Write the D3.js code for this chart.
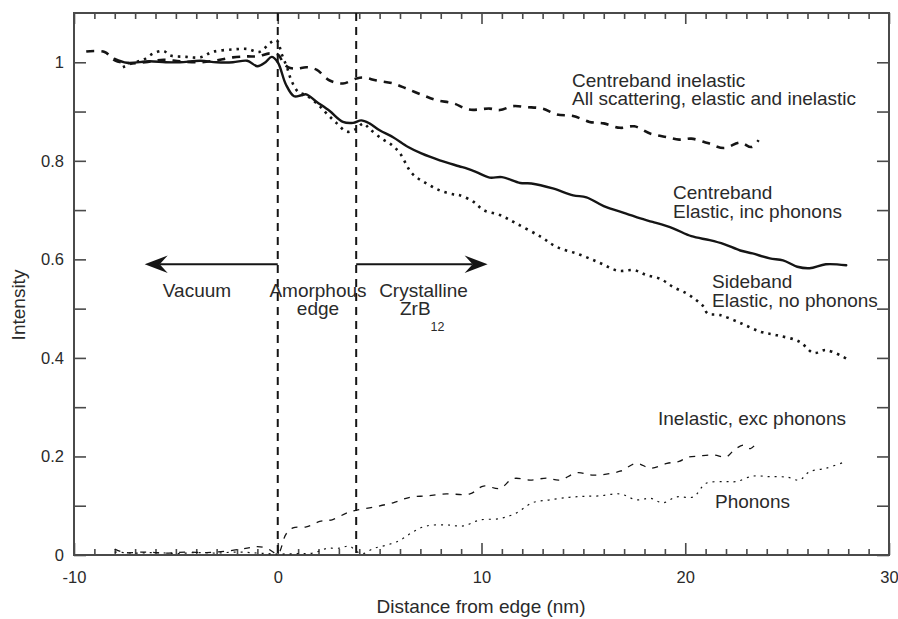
<!DOCTYPE html>
<html>
<head>
<meta charset="utf-8">
<script src="https://cdn.jsdelivr.net/npm/d3@7"></script>
<style>
  html, body { margin: 0; padding: 0; background: #fff; }
  svg { display: block; font-family: "Liberation Sans", Arial, Helvetica, sans-serif; }
  .tick text { font-size: 16.5px; fill: #2a2a2a; }
  .tick line { stroke: #4a4a4a; stroke-width: 1.6; }
  .lbl { font-size: 19px; fill: #2a2a2a; }
</style>
</head>
<body>
<svg id="chart" width="898" height="619"></svg>
<script>
// Intensity profiles across the ZrB12 surface (distance in nm, normalised intensity)
const allScattering = [
  [-9.4,1.022],[-8.5,1.021],[-8.0,1.004],[-7.3,0.998],[-6.5,1.0],[-5.6,1.005],[-4.8,1.002],
  [-3.8,1.0],[-3.0,1.004],[-2.2,1.01],[-1.5,1.012],[-1.0,1.012],[-0.4,1.018],[0.0,1.016],
  [0.26,1.0],[0.5,0.99],[0.92,0.987],[1.41,0.99],[1.9,0.985],[2.55,0.963],[3.2,0.957],
  [3.86,0.967],[4.2,0.969],[4.85,0.963],[5.66,0.957],[6.3,0.947],[7.13,0.933],[7.8,0.923],
  [8.6,0.917],[9.4,0.904],[10.4,0.906],[10.9,0.903],[11.55,0.911],[12.2,0.909],[13.0,0.906],
  [13.7,0.894],[14.5,0.891],[15.3,0.879],[16.0,0.876],[16.8,0.867],[17.5,0.87],[18.3,0.855],
  [19.1,0.848],[19.7,0.843],[20.3,0.845],[21.1,0.836],[21.9,0.826],[22.7,0.837],[23.25,0.828],
  [23.6,0.842]
];
const elasticIncPhonons = [
  [-8.0,1.007],[-7.4,0.999],[-6.3,1.002],[-5.5,1.0],[-4.8,1.0],[-3.8,1.003],[-3.0,1.0],
  [-2.2,1.0],[-1.5,1.003],[-1.0,0.992],[-0.6,1.0],[-0.3,1.011],[0.0,1.0],[0.4,0.955],
  [0.8,0.931],[1.15,0.933],[1.4,0.935],[1.9,0.92],[2.55,0.901],[3.2,0.879],[3.7,0.877],
  [4.1,0.882],[4.5,0.876],[5.0,0.862],[5.66,0.848],[6.4,0.828],[7.05,0.815],[7.95,0.801],
  [8.9,0.789],[9.3,0.784],[9.75,0.777],[10.4,0.766],[11.0,0.767],[11.9,0.755],[12.45,0.754],
  [13.5,0.744],[14.5,0.73],[15.15,0.726],[16.0,0.708],[17.1,0.693],[17.8,0.683],[18.4,0.676],
  [19.4,0.663],[20.3,0.647],[21.2,0.639],[21.9,0.631],[22.7,0.618],[23.3,0.612],[24.15,0.602],
  [24.8,0.598],[25.5,0.585],[26.1,0.582],[26.9,0.59],[27.9,0.588]
];
const elasticNoPhonons = [
  [-7.6,0.99],[-7.1,0.999],[-6.6,1.005],[-6.1,1.018],[-5.6,1.023],[-5.3,1.014],[-4.5,1.011],
  [-3.8,1.01],[-3.2,1.021],[-2.2,1.026],[-1.5,1.027],[-0.9,1.021],[-0.35,1.04],[-0.06,1.045],
  [0.2,1.016],[0.45,0.99],[0.67,0.963],[1.0,0.94],[1.4,0.933],[2.0,0.913],[2.4,0.896],
  [2.9,0.876],[3.4,0.859],[3.86,0.865],[4.2,0.876],[4.5,0.865],[5.1,0.845],[5.6,0.832],
  [6.0,0.815],[6.6,0.774],[7.3,0.754],[7.95,0.74],[8.6,0.732],[8.93,0.73],[9.6,0.717],
  [10.1,0.7],[10.9,0.69],[11.7,0.673],[12.9,0.646],[13.7,0.625],[14.8,0.61],[15.8,0.593],
  [16.7,0.577],[17.5,0.578],[18.1,0.568],[18.8,0.56],[19.4,0.544],[20.06,0.531],[20.55,0.517],
  [20.9,0.504],[21.1,0.49],[21.7,0.487],[22.7,0.471],[23.7,0.453],[24.5,0.446],[25.6,0.433],
  [26.3,0.41],[26.9,0.416],[27.9,0.399]
];
const inelasticExcPhonons = [
  [-8.0,0.012],[-7.5,0.005],[-6.5,0.006],[-5.5,0.004],[-4.5,0.006],[-3.5,0.005],[-2.5,0.008],
  [-1.5,0.014],[-1.0,0.017],[-0.55,0.014],[0.0,0.003],[0.4,0.042],[0.75,0.055],[1.4,0.057],
  [2.06,0.068],[2.7,0.072],[3.37,0.085],[3.86,0.091],[4.68,0.097],[5.66,0.106],[6.48,0.117],
  [7.3,0.12],[8.28,0.124],[9.43,0.124],[10.1,0.14],[10.9,0.135],[11.55,0.155],[12.4,0.152],
  [13.2,0.156],[13.84,0.152],[14.7,0.167],[15.5,0.162],[16.8,0.17],[17.6,0.186],[18.3,0.176],
  [19.1,0.186],[19.7,0.19],[20.1,0.198],[20.7,0.201],[21.4,0.203],[22.0,0.199],[22.4,0.213],
  [22.85,0.223],[23.2,0.216],[23.6,0.233]
];
const phonons = [
  [-8.0,0.006],[-7.0,0.004],[-6.0,0.005],[-5.0,0.003],[-4.0,0.005],[-3.0,0.004],[-2.0,0.006],
  [-1.0,0.004],[0.0,0.002],[1.0,0.003],[1.73,0.004],[2.39,0.013],[3.04,0.014],[3.53,0.018],
  [3.86,0.007],[4.19,0.003],[4.68,0.013],[5.34,0.02],[6.0,0.03],[6.64,0.047],[7.3,0.059],
  [8.28,0.061],[9.1,0.059],[9.92,0.071],[10.9,0.074],[11.7,0.085],[12.5,0.106],[13.35,0.112],
  [14.3,0.117],[15.0,0.119],[15.8,0.12],[16.8,0.124],[17.6,0.112],[18.3,0.115],[18.9,0.106],
  [19.57,0.118],[20.4,0.118],[21.0,0.145],[21.86,0.149],[22.5,0.149],[23.3,0.16],[24.15,0.159],
  [25.0,0.158],[25.6,0.152],[26.1,0.169],[26.9,0.176],[27.9,0.19]
];

// Axis ticks
const xMajorTicks = [-10, 0, 10, 20, 30];
const xMinorTicks = d3.range(-10, 31, 1).filter(v => v % 10 !== 0);
const yLabelTicks = [0, 0.2, 0.4, 0.6, 0.8, 1];
const yAllTicks = d3.range(0, 11, 1).map(v => v / 10);

// Region boundaries and the arrow level
const boundaries = [0, 3.85];
const arrowLevel = 0.59;
const vacuumArrowTip = -6.53;
const crystalArrowTip = 10.3;

const svg = d3.select("#chart");
const L = 74, R = 889, T = 13, B = 555;

const x = d3.scaleLinear().domain([-10, 30]).range([L, R]);
const y = d3.scaleLinear().domain([0, 1.1]).range([B, T]);

const axisColor = "#4a4a4a";
const ink = "#151515";

// Bottom axis: labelled majors + minors, ticks pointing inward
svg.append("g").attr("transform", `translate(0,${B})`)
  .call(d3.axisBottom(x).tickValues(xMajorTicks).tickSize(-12).tickPadding(16)
        .tickFormat(d => String(d)))
  .call(g => g.select(".domain").remove());
svg.append("g").attr("transform", `translate(0,${B})`)
  .call(d3.axisBottom(x).tickValues(xMinorTicks).tickSize(-6).tickFormat(""))
  .call(g => g.select(".domain").remove());

// Top axis
svg.append("g").attr("transform", `translate(0,${T})`)
  .call(d3.axisTop(x).tickValues(xMajorTicks).tickSize(-11).tickFormat(""))
  .call(g => g.select(".domain").remove());
svg.append("g").attr("transform", `translate(0,${T})`)
  .call(d3.axisTop(x).tickValues(xMinorTicks).tickSize(-6).tickFormat(""))
  .call(g => g.select(".domain").remove());

// Left axis
svg.append("g").attr("transform", `translate(${L},0)`)
  .call(d3.axisLeft(y).tickValues(yAllTicks).tickSize(-12)
        .tickFormat(d => yLabelTicks.some(t => Math.abs(t - d) < 1e-9) ? String(+d.toFixed(1)) : ""))
  .call(g => g.select(".domain").remove())
  .call(g => g.selectAll(".tick text").attr("x", -10));

// Right axis
svg.append("g").attr("transform", `translate(${R},0)`)
  .call(d3.axisRight(y).tickValues(yAllTicks).tickSize(-12).tickFormat(""))
  .call(g => g.select(".domain").remove());

// Frame
svg.append("path")
  .attr("d", `M${L},${T}H${R}V${B}H${L}Z`)
  .attr("fill", "none").attr("stroke", axisColor).attr("stroke-width", 2);

// Region boundaries
svg.selectAll("line.boundary").data(boundaries).join("line")
  .attr("class", "boundary")
  .attr("x1", d => x(d)).attr("x2", d => x(d))
  .attr("y1", T).attr("y2", B)
  .attr("stroke", ink).attr("stroke-width", 2)
  .attr("stroke-dasharray", "8,6");

// Curves
const line = d3.line().x(d => x(d[0])).y(d => y(d[1])).curve(d3.curveCatmullRom.alpha(0.5));
const series = [
  { data: allScattering, width: 2.6, dash: "8,7", cap: "butt" },
  { data: elasticNoPhonons, width: 2.6, dash: "2.5,5", cap: "butt" },
  { data: elasticIncPhonons, width: 2.4, dash: null, cap: "round" },
  { data: inelasticExcPhonons, width: 1.3, dash: "6,7", cap: "butt" },
  { data: phonons, width: 1.2, dash: "2,5", cap: "butt" }
];
svg.selectAll("path.curve").data(series).join("path")
  .attr("class", "curve")
  .attr("d", s => line(s.data))
  .attr("fill", "none")
  .attr("stroke", ink)
  .attr("stroke-width", s => s.width)
  .attr("stroke-linecap", s => s.cap)
  .attr("stroke-linejoin", "round")
  .attr("stroke-dasharray", s => s.dash);

// Region arrows
function arrow(fromX, toX) {
  const y0 = y(arrowLevel), x0 = x(fromX), x1 = x(toX);
  const dir = Math.sign(x1 - x0);
  const len = 23, half = 8.7, notch = 15;
  svg.append("line")
    .attr("x1", x0).attr("x2", x1 - dir * notch).attr("y1", y0).attr("y2", y0)
    .attr("stroke", ink).attr("stroke-width", 2);
  svg.append("path")
    .attr("d", `M${x1},${y0}L${x1 - dir * len},${y0 - half}L${x1 - dir * notch},${y0}L${x1 - dir * len},${y0 + half}Z`)
    .attr("fill", ink);
}
arrow(boundaries[0], vacuumArrowTip);
arrow(boundaries[1], crystalArrowTip);

// Annotations
function label(tx, ty, text, anchor) {
  return svg.append("text").attr("class", "lbl")
    .attr("x", tx).attr("y", ty).attr("text-anchor", anchor || "start").text(text);
}
label(197, 297, "Vacuum", "middle");
label(318, 297, "Amorphous", "middle");
label(318, 315, "edge", "middle");
label(423.5, 297, "Crystalline", "middle");
const zr = svg.append("text").attr("class", "lbl").attr("x", 400).attr("y", 315);
zr.append("tspan").text("ZrB");
zr.append("tspan").attr("dy", 16).attr("font-size", 12.5).text("12");

label(572, 87, "Centreband inelastic");
label(572, 105, "All scattering, elastic and inelastic");
label(673, 199, "Centreband");
label(673, 218, "Elastic, inc phonons");
label(712, 288, "Sideband");
label(712, 307, "Elastic, no phonons");
label(658, 425, "Inelastic, exc phonons");
label(715, 508, "Phonons");

// Axis titles
label(481, 613, "Distance from edge (nm)", "middle");
svg.append("text").attr("class", "lbl")
  .attr("transform", "translate(25,305) rotate(-90)")
  .attr("text-anchor", "middle").text("Intensity");
</script>
</body>
</html>
